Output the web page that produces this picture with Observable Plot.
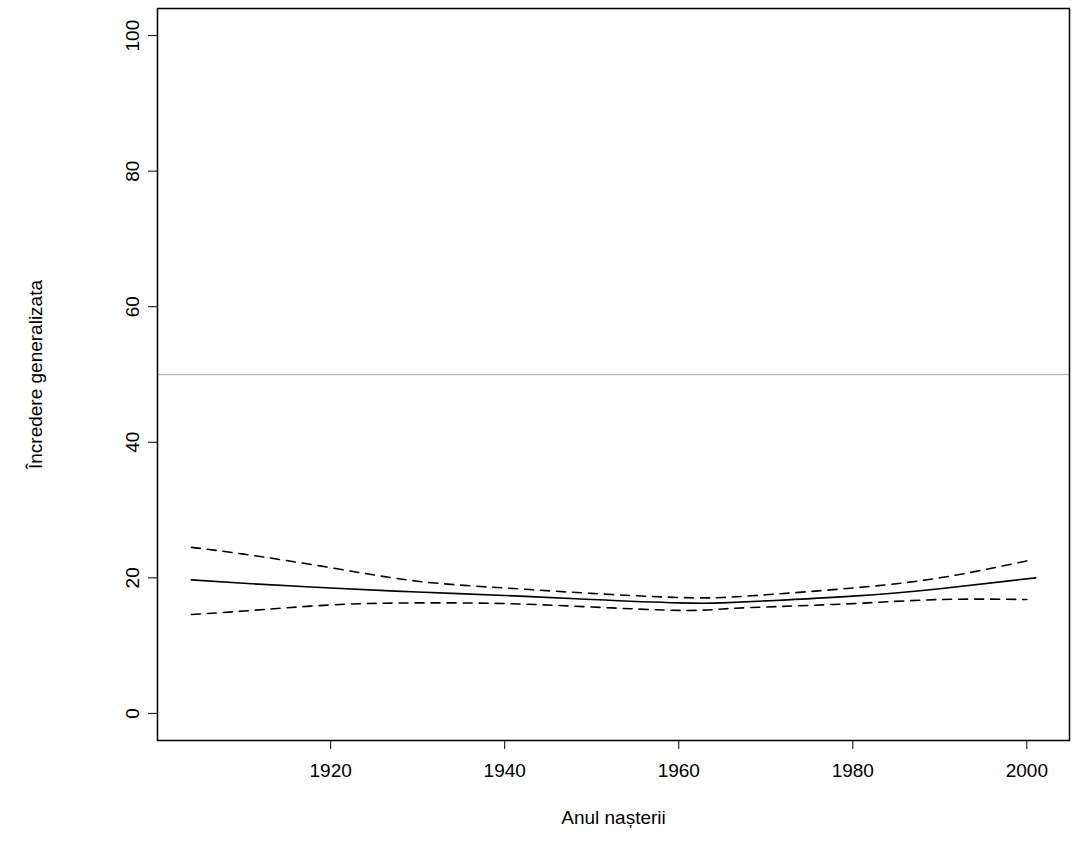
<!DOCTYPE html>
<html>
<head>
<meta charset="utf-8">
<script src="https://cdn.jsdelivr.net/npm/d3@7"></script>
<script src="https://cdn.jsdelivr.net/npm/@observablehq/plot@0.6"></script>
<style>
  body { margin: 0; background: #fff; }
</style>
</head>
<body>
<div id="chart"></div>
<script>
const years = [1904, 1910, 1920, 1930, 1940, 1950, 1960, 1965, 1970, 1980, 1990, 2001]
const estimate = [19.7, 19.2, 18.5, 17.9, 17.4, 16.8, 16.3, 16.3, 16.6, 17.3, 18.4, 20.0]
const upperYears = [1904, 1910, 1920, 1930, 1940, 1950, 1960, 1965, 1970, 1980, 1990, 2000]
const upper = [24.5, 23.5, 21.5, 19.5, 18.5, 17.7, 17.1, 17.1, 17.5, 18.5, 20.0, 22.5]
const lower = [14.6, 15.1, 16.0, 16.3, 16.2, 15.7, 15.2, 15.4, 15.7, 16.2, 16.8, 16.8]
const xTicks = [1920, 1940, 1960, 1980, 2000]
const yTicks = [0, 20, 40, 60, 80, 100]

const mid = years.map((x, i) => ({x, y: estimate[i]}))
const hi = upperYears.map((x, i) => ({x, y: upper[i]}))
const lo = upperYears.map((x, i) => ({x, y: lower[i]}))

const chart = Plot.plot({
  width: 1076,
  height: 864,
  marginLeft: 157,
  marginRight: 7,
  marginTop: 8,
  marginBottom: 124,
  style: {fontFamily: "Liberation Sans, Arial, sans-serif", fontSize: "19px", color: "#000", background: "#fff"},
  x: {domain: [1900.1, 2004.9]},
  y: {domain: [-4, 104]},
  marks: [
    Plot.ruleY([50], {stroke: "#bbb", strokeWidth: 1.5}),
    Plot.line(mid, {x: "x", y: "y", stroke: "#000", strokeWidth: 1.6, curve: "natural"}),
    Plot.line(hi, {x: "x", y: "y", stroke: "#000", strokeWidth: 1.6, strokeDasharray: "9,7", curve: "natural"}),
    Plot.line(lo, {x: "x", y: "y", stroke: "#000", strokeWidth: 1.6, strokeDasharray: "9,7", curve: "natural"}),
    Plot.frame({stroke: "#000", strokeWidth: 1.5}),
    Plot.axisX({ticks: xTicks, tickFormat: d => String(d), tickSize: 9, tickPadding: 14, label: null, stroke: "#000"}),
    Plot.axisY({ticks: yTicks, tickSize: 9, tickPadding: 10, tickRotate: -90, label: null, stroke: "#000"}),
    Plot.text(["Anul nașterii"], {frameAnchor: "bottom", dy: 83, fontSize: 19}),
    Plot.text(["Încredere generalizata"], {frameAnchor: "left", dx: -122, rotate: -90, textAnchor: "middle", fontSize: 19})
  ]
})
d3.select('#chart').append(() => chart)
</script>
</body>
</html>
